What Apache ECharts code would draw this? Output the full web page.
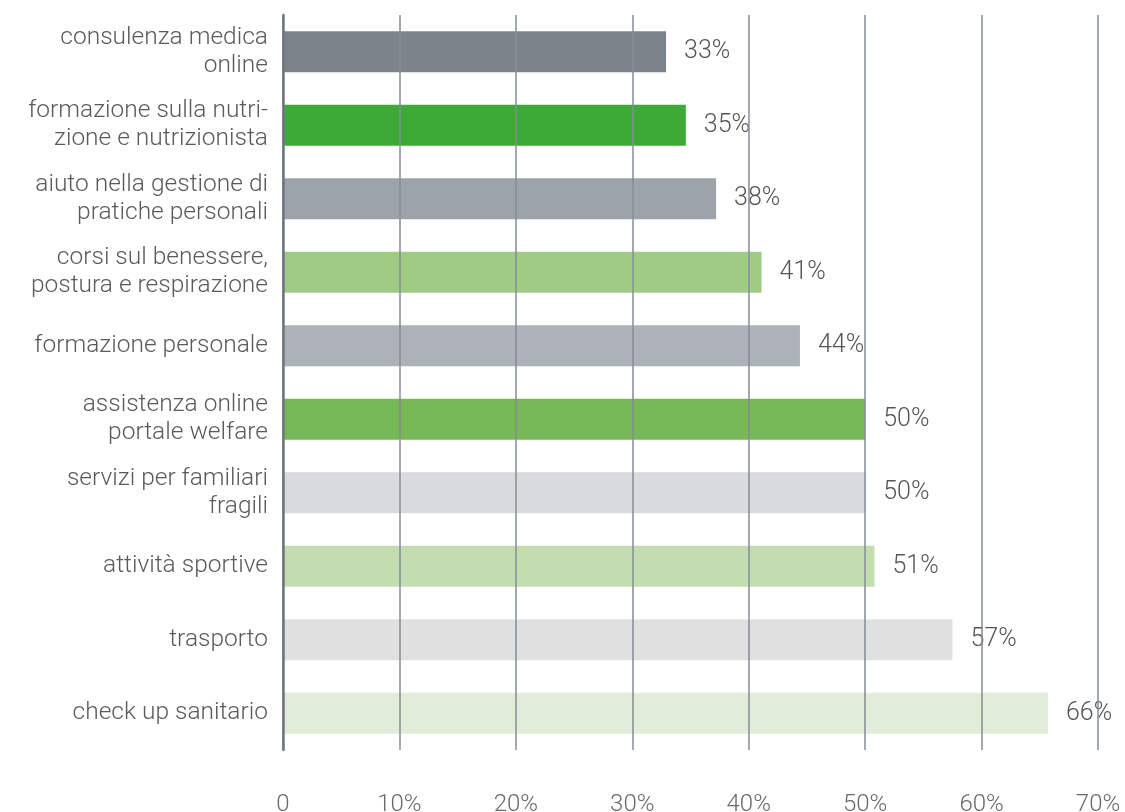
<!DOCTYPE html>
<html>
<head>
<meta charset="utf-8">
<script src="https://cdn.jsdelivr.net/npm/echarts@6/dist/echarts.min.js"></script>
<style>
html,body{margin:0;padding:0;background:#fff;}
#c{width:1125px;height:812px;}
</style>
</head>
<body>
<div id="c"></div>
<script>
const categories = [
  "consulenza medica\nonline",
  "formazione sulla nutri-\nzione e nutrizionista",
  "aiuto nella gestione di\npratiche personali",
  "corsi sul benessere,\npostura e respirazione",
  "formazione personale",
  "assistenza online\nportale welfare",
  "servizi per familiari\nfragili",
  "attività sportive",
  "trasporto",
  "check up sanitario"
];
const values = [32.9, 34.6, 37.2, 41.1, 44.4, 50.0, 50.0, 50.8, 57.5, 65.7];
const valueLabels = ["33%", "35%", "38%", "41%", "44%", "50%", "50%", "51%", "57%", "66%"];
const barColors = ["#7b838b", "#3daa38", "#9ca3aa", "#9fcb85", "#adb1b8", "#76b756", "#d9dadc", "#c4ddb0", "#e0e0e0", "#e1edd8"];
const xTicks = [0, 10, 20, 30, 40, 50, 60, 70];

const font = "Roboto, 'Noto Sans', sans-serif";
const chart = echarts.init(document.getElementById('c'), null, {renderer: 'canvas'});
chart.setOption({
  backgroundColor: '#ffffff',
  animation: false,
  grid: {left: 283, right: 27, top: 15, bottom: 62, containLabel: false, outerBoundsMode: 'none'},
  xAxis: {
    type: 'value', min: xTicks[0], max: xTicks[xTicks.length - 1], interval: 10,
    axisLine: {show: false}, axisTick: {show: false},
    axisLabel: {
      margin: 43, color: '#6a6a6a', fontFamily: font, fontWeight: 300,
      fontSize: 24,
      formatter: v => v === 0 ? '0' : v + '%'
    },
    splitLine: {show: true, lineStyle: {color: '#858d96', width: 1.5}},
    z: 5
  },
  yAxis: {
    type: 'category', data: categories, inverse: true,
    axisLine: {show: true, lineStyle: {color: '#6e767e', width: 2.5}},
    axisTick: {show: false},
    axisLabel: {margin: 15, color: '#5a5a5a', fontFamily: font, fontWeight: 300, fontSize: 24.5, lineHeight: 28, align: 'right'},
    z: 5
  },
  series: [{
    type: 'bar',
    data: values.map((v, i) => ({value: v, itemStyle: {color: barColors[i]}})),
    barWidth: 41,
    z: -1,
    label: {
      show: true, position: 'right', distance: 18,
      color: '#555', fontFamily: font, fontWeight: 300, fontSize: 25,
      formatter: p => valueLabels[p.dataIndex]
    }
  }]
});
</script>
</body>
</html>
